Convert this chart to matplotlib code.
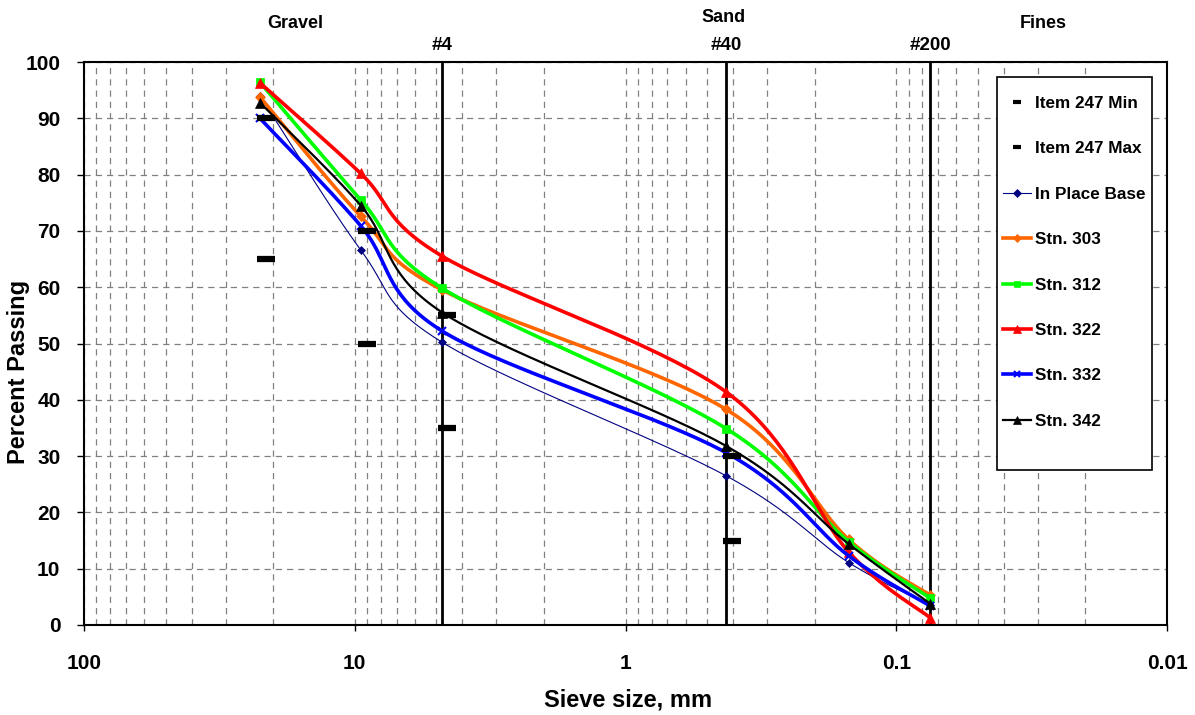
import numpy as np
import matplotlib
matplotlib.use("Agg")
import matplotlib.pyplot as plt
from matplotlib.lines import Line2D
from matplotlib.patches import Rectangle

# ---------------- data ----------------
sieve_mm = [22.4, 9.5, 4.75, 0.425, 0.15, 0.075]

spec_sieve_mm = [21.3, 9.0, 4.55, 0.405]
item247_min = [65, 50, 35, 15]
item247_max = [90, 70, 55, 30]

in_place_base = [94.0, 66.6, 50.2, 26.5, 11.1, 3.6]
stn_303 = [93.8, 72.6, 59.5, 38.3, 15.2, 5.3]
stn_312 = [96.4, 75.5, 59.8, 34.9, 14.8, 4.8]
stn_322 = [96.3, 80.2, 65.5, 41.4, 13.0, 1.3]
stn_332 = [90.0, 70.9, 52.2, 30.6, 12.3, 3.4]
stn_342 = [92.8, 74.5, 55.5, 31.8, 14.4, 3.8]

sieve_lines_mm = [4.75, 0.425, 0.075]
sieve_line_labels = ["#4", "#40", "#200"]

x_tick_vals = [100, 10, 1, 0.1, 0.01]
x_tick_labels = ["100", "10", "1", "0.1", "0.01"]
y_tick_vals = list(range(0, 101, 10))

# ---------------- figure ----------------
plt.rcParams['font.family'] = ['Liberation Sans', 'DejaVu Sans']
plt.rcParams['font.weight'] = 'bold'

W, H = 1195, 715
fig = plt.figure(figsize=(W / 100, H / 100), dpi=100)
L, R, T, B = 84, 1167, 62, 625
ax = fig.add_axes([L / W, 1 - B / H, (R - L) / W, (B - T) / H])

ax.set_xscale('log')
ax.set_xlim(100, 0.01)
ax.set_ylim(0, 100)

# grid
ax.set_xticks(x_tick_vals)
ax.set_xticklabels(x_tick_labels)
minor = [m * 10.0 ** e for e in range(-2, 2) for m in range(2, 10)]
ax.set_xticks(minor, minor=True)
ax.set_xticklabels([], minor=True)
ax.set_yticks(y_tick_vals)
ax.grid(True, which='both', axis='x', color='#808080', lw=0.9, linestyle=(0, (5, 4)))
ax.grid(True, which='major', axis='y', color='#808080', lw=0.9, linestyle=(0, (5, 4)))
ax.set_axisbelow(True)
ax.tick_params(axis='x', which='minor', length=0)
ax.tick_params(axis='x', which='major', direction='out', length=4, width=1,
               pad=17, labelsize=15)
ax.tick_params(axis='y', which='major', direction='out', length=5, width=1,
               pad=12, labelsize=15)
for lab in ax.get_xticklabels() + ax.get_yticklabels():
    lab.set_fontweight('bold')
for s in ax.spines.values():
    s.set_linewidth(1.5)
    s.set_color('black')

# sieve reference lines
for xv in sieve_lines_mm:
    ax.axvline(xv, color='black', lw=2, zorder=1.5)


# Excel-like smoothed curve (Catmull-Rom bezier in display space)
def smooth_xy(xs, ys, n=40):
    pts = ax.transData.transform(np.column_stack([xs, ys]))
    out = []
    k = len(pts)
    for i in range(k - 1):
        p0 = pts[max(i - 1, 0)]
        p1 = pts[i]
        p2 = pts[i + 1]
        p3 = pts[min(i + 2, k - 1)]
        c1 = p1 + (p2 - p0) / 6.0
        c2 = p2 - (p3 - p1) / 6.0
        t = np.linspace(0, 1, n)[:, None]
        seg = ((1 - t) ** 3) * p1 + 3 * ((1 - t) ** 2) * t * c1 + \
            3 * (1 - t) * t ** 2 * c2 + t ** 3 * p2
        if i > 0:
            seg = seg[1:]
        out.append(seg)
    out = np.vstack(out)
    data = ax.transData.inverted().transform(out)
    return data[:, 0], data[:, 1]


series = [
    ("In Place Base", in_place_base, '#000080', 0.8, 'D', 4.5),
    ("Stn. 303", stn_303, '#FF6600', 2.6, 'D', 5),
    ("Stn. 312", stn_312, '#00FF00', 2.6, 's', 6),
    ("Stn. 322", stn_322, '#FF0000', 2.6, '^', 7),
    ("Stn. 332", stn_332, '#0000FF', 2.6, 'x', 6),
    ("Stn. 342", stn_342, '#000000', 1.6, '^', 7),
]

fig.canvas.draw()
handles = []
handles.append(Line2D([], [], color='black', marker='_', linestyle='None',
                      markersize=6, mew=3, label="Item 247 Min"))
handles.append(Line2D([], [], color='black', marker='_', linestyle='None',
                      markersize=6, mew=3, label="Item 247 Max"))

for z, (name, vals, col, lw, mk, ms) in enumerate(series):
    sx, sy = smooth_xy(sieve_mm, vals)
    ax.plot(sx, sy, color=col, lw=lw, zorder=3 + z, solid_capstyle='round')
    mew = 1.5 if mk == 'x' else 0.5
    ax.plot(sieve_mm, vals, linestyle='None', marker=mk, color=col,
            markersize=ms, mew=mew, mec=col, zorder=3 + z)
    handles.append(Line2D([], [], color=col, lw=lw, marker=mk,
                          markersize=ms * 0.8, mew=mew, label=name))

ax.plot(spec_sieve_mm, item247_min, linestyle='None', marker='_', color='black',
        markersize=13, mew=4.5, zorder=12)
ax.plot(spec_sieve_mm, item247_max, linestyle='None', marker='_', color='black',
        markersize=13, mew=4.5, zorder=12)


def px(x, y):
    return x / W, 1 - y / H


# legend frame drawn as a rectangle, legend entries without frame
lx0, ly0, lx1, ly1 = 997, 77, 1152, 470
rect = Rectangle(px(lx0, ly1), (lx1 - lx0) / W, (ly1 - ly0) / H,
                 transform=fig.transFigure, facecolor='white', edgecolor='black',
                 lw=1.2, zorder=19)
ax.add_artist(rect)
rect.set_clip_on(False)

leg = ax.legend(handles=handles, loc='upper left',
                bbox_to_anchor=((1003 - L) / (R - L), (B - 96) / (B - T)),
                frameon=False,
                prop={'weight': 'bold', 'size': 12.3}, labelspacing=1.78,
                handlelength=1.65, handletextpad=0.2, borderpad=0,
                borderaxespad=0)
leg.set_zorder(20)

# labels above plot
fig.text(*px(295, 23), "Gravel", ha='center', va='center', fontsize=13, weight='bold')
fig.text(*px(724, 18), "Sand", ha='center', va='center', fontsize=13, weight='bold')
fig.text(*px(1043, 23), "Fines", ha='center', va='center', fontsize=13, weight='bold')
for xv, lab in zip(sieve_lines_mm, sieve_line_labels):
    xd = ax.transData.transform((xv, 0))[0]
    fig.text(xd / W, 1 - 45 / H, lab, ha='center', va='center', fontsize=13.5,
             weight='bold')

fig.text(*px(628, 700), "Sieve size, mm", ha='center', va='center',
         fontsize=17, weight='bold')
fig.text(*px(19, 372), "Percent Passing", ha='center', va='center',
         fontsize=17, weight='bold', rotation=90)

fig.savefig("out.png", dpi=100)
